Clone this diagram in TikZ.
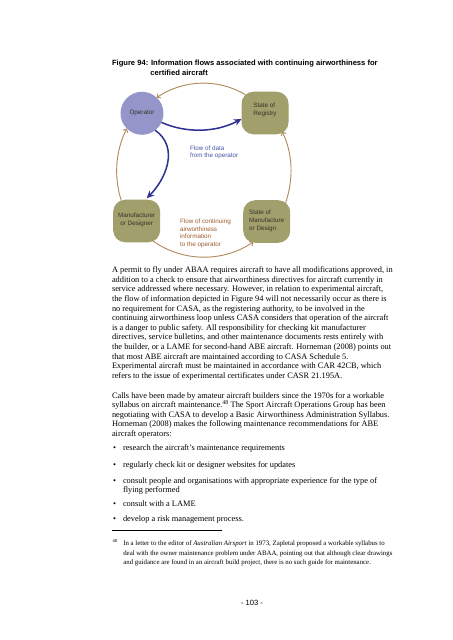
\documentclass[tikz,border=0pt]{standalone}
\usepackage{fontspec}
\setmainfont{Liberation Serif}
\newfontfamily\arialf{Liberation Sans}
\usetikzlibrary{arrows.meta}
\definecolor{opblue}{HTML}{9496C9}
\definecolor{olivefill}{HTML}{A19F6B}
\definecolor{arcbrown}{HTML}{B08A5C}
\definecolor{navyarrow}{HTML}{2E3192}
\definecolor{bluelabel}{HTML}{4655A5}
\definecolor{brownlabel}{HTML}{9C5B2C}
\definecolor{boxink}{HTML}{33332A}
\begin{document}
\begin{tikzpicture}[x=1.317pt,y=-1.317pt,
  titletext/.style={anchor=base west,inner sep=0pt,outer sep=0pt,font=\arialf\fontsize{10}{12}\selectfont\bfseries},
  body/.style={anchor=north west,inner sep=0pt,outer sep=0pt,align=left,font=\fontsize{11}{12.64}\selectfont},
  bodyline/.style={anchor=base west,inner sep=0pt,outer sep=0pt,font=\fontsize{11}{12.64}\selectfont},
  fntext/.style={anchor=north west,inner sep=0pt,outer sep=0pt,align=left,font=\fontsize{9}{12.8}\selectfont},
  fnmark/.style={anchor=base west,inner sep=0pt,outer sep=0pt,font=\fontsize{6}{7}\selectfont},
  pagenum/.style={anchor=base,inner sep=0pt,outer sep=0pt,font=\arialf\fontsize{10}{12}\selectfont},
  opnode/.style={circle,fill=opblue,minimum size=56.6pt,inner sep=0pt,outer sep=0pt,text=boxink,font=\arialf\fontsize{8.3}{10.5}\selectfont},
  obox/.style={rectangle,rounded corners=15.8pt,fill=olivefill,minimum width=61.9pt,minimum height=56pt,inner sep=0pt,outer sep=0pt},
  boxtext/.style={align=left,inner sep=0pt,outer sep=0pt,text=boxink,font=\arialf\fontsize{8.3}{10.5}\selectfont},
  lblblue/.style={anchor=north west,inner sep=0pt,outer sep=0pt,align=left,text=bluelabel,font=\arialf\fontsize{8.3}{10.1}\selectfont},
  lblbrown/.style={anchor=north west,inner sep=0pt,outer sep=0pt,align=left,text=brownlabel,font=\arialf\fontsize{8.3}{9.9}\selectfont},
  brownarc/.style={draw=arcbrown,line width=1.2pt,-{Straight Barb[length=3.5pt,width=7pt]}},
  bluearr/.style={draw=navyarrow,line width=2pt,-{Stealth[length=10pt,width=9pt]}}
]
\path[use as bounding box,fill=white] (0,0) rectangle (452,640);

% title
\node[titletext] (title1) at (112,65.7) {Figure 94: Information flows associated with continuing airworthiness for};
\node[titletext] (title2) at (150.4,75.7) {certified aircraft};

% diagram nodes
\node[opnode] (op) at (142,113.3) {Operator};
\node[obox] (reg) at (265,113) {};
\node[boxtext] (regtext) at (265,109.5) {State of\\Registry};
\node[obox] (man) at (136.7,221) {};
\node[boxtext,align=center] (mantext) at (136.7,219.7) {Manufacturer\\or Designer};
\node[obox] (smd) at (266.7,221.5) {};
\node[boxtext] (smdtext) at (266.7,221) {State of\\Manufacture\\or Design};

% brown cycle
\draw[brownarc] ([shift={(4,3)}]reg.north west) .. controls (218,78.3) and (183.6,79.5) .. (op.47);
\draw[brownarc] ([shift={(8,0.5)}]man.north west) .. controls (113.7,177) and (115.5,150.9) .. (op.225);
\draw[brownarc] ([shift={(-4.5,2.5)}]smd.north east) .. controls (293.9,177.6) and (292.5,153.1) .. ([shift={(-6.3,-2.6)}]reg.south east);
\draw[brownarc] ([shift={(-7.5,-1.5)}]man.south east) .. controls (182.2,262) and (222.8,262.7) .. ([shift={(10.1,-0.8)}]smd.south west);

% blue flows
\draw[bluearr] (op.-25) .. controls (185,133) and (215,133) .. ([shift={(0,6)}]reg.west);
\draw[bluearr] (op.-52) .. controls (180,148) and (165,180) .. ([shift={(10,-1.5)}]man.north);

% labels
\node[lblblue] (flowdata) at (190,145.7) {Flow of data\\from the operator};
\node[lblbrown] (flowcont) at (180,219.1) {Flow of continuing\\airworthiness\\information\\to the operator};

% body text
\node[body] (para1) at (112,266.8) {A permit to fly under ABAA requires aircraft to have all modifications approved, in\\
addition to a check to ensure that airworthiness directives for aircraft currently in\\
service addressed where necessary. However, in relation to experimental aircraft,\\
the flow of information depicted in Figure 94 will not necessarily occur as there is\\
no requirement for CASA, as the registering authority, to be involved in the\\
continuing airworthiness loop unless CASA considers that operation of the aircraft\\
is a danger to public safety. All responsibility for checking kit manufacturer\\
directives, service bulletins, and other maintenance documents rests entirely with\\
the builder, or a LAME for second-hand ABE aircraft. Horneman (2008) points out\\
that most ABE aircraft are maintained according to CASA Schedule 5.\\
Experimental aircraft must be maintained in accordance with CAR 42CB, which\\
refers to the issue of experimental certificates under CASR 21.195A.};

\node[body] (para2) at (112,392.3) {Calls have been made by amateur aircraft builders since the 1970s for a workable\\
syllabus on aircraft maintenance.\textsuperscript{48} The Sport Aircraft Operations Group has been\\
negotiating with CASA to develop a Basic Airworthiness Administration Syllabus.\\
Horneman (2008) makes the following maintenance recommendations for ABE\\
aircraft operators:};

% bullets
\node[bodyline] (bul1) at (113,450.6) {\textbullet};
\node[bodyline] (item1) at (123,450.6) {research the aircraft’s maintenance requirements};
\node[bodyline] (bul2) at (113,467.1) {\textbullet};
\node[bodyline] (item2) at (123,467.1) {regularly check kit or designer websites for updates};
\node[bodyline] (bul3) at (113,483.1) {\textbullet};
\node[body] (item3) at (123,477.3) {consult people and organisations with appropriate experience for the type of\\flying performed};
\node[bodyline] (bul4) at (113,506.1) {\textbullet};
\node[bodyline] (item4) at (123,506.1) {consult with a LAME};
\node[bodyline] (bul5) at (113,521.6) {\textbullet};
\node[bodyline] (item5) at (123,521.6) {develop a risk management process.};

% footnote
\coordinate (rulea) at (112,530);
\coordinate (ruleb) at (222,530);
\draw[line width=0.5pt] (rulea) -- (ruleb);
\node[fnmark] (fnnum) at (112.7,542.5) {48};
\node[fntext] (fn) at (123.3,540.6) {In a letter to the editor of \textit{Australian Airsport} in 1973, Zapletal proposed a workable syllabus to\\
deal with the owner maintenance problem under ABAA, pointing out that although clear drawings\\
and guidance are found in an aircraft build project, there is no such guide for maintenance.};

\node[pagenum] (pg) at (252,605.7) {- 103 -};
\end{tikzpicture}
\end{document}
